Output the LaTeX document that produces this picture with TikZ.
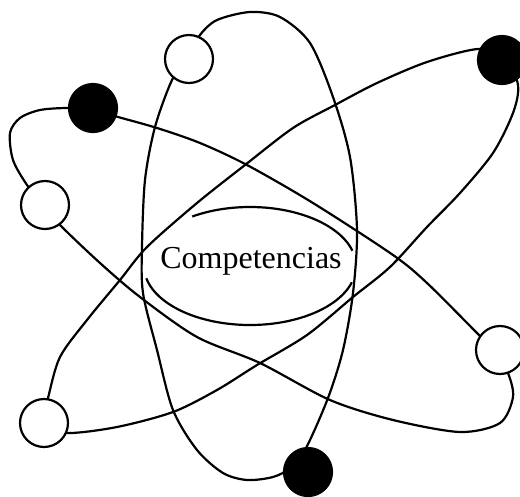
\documentclass[tikz,border=0pt]{standalone}
\usepackage{fontspec}
\setmainfont{Liberation Serif}
\usepackage{tikz}
\usetikzlibrary{positioning}

\begin{document}
\begin{tikzpicture}[
    x=1pt, y=-1pt,
    orbit/.style={line width=2.2pt, line join=round},
    open_ball/.style={circle, draw, line width=2.2pt, fill=white, minimum size=48pt, inner sep=0pt},
    full_ball/.style={circle, draw, line width=2.2pt, fill=black, minimum size=48pt, inner sep=0pt},
    core_text/.style={font=\fontsize{32}{36}\selectfont, inner sep=0pt}
]
\useasboundingbox (0,0) rectangle (520,496);

% Vertical orbit
\draw[orbit] plot[smooth cycle] coordinates {
    (250,12) (280,17) (310,43) (333,97) (350,157) (357,230) (353,293) (343,350)
    (328,398) (306,448) (290,468) (273,477) (247,480) (223,473) (197,450) (173,410)
    (157,350) (143,293) (142,247) (145,180) (155,127) (172,80) (188,57) (200,35) (217,20)};

% Rising orbit
\draw[orbit] plot[smooth cycle] coordinates {
    (505,57) (518,85) (513,113) (493,153) (460,193) (427,227) (390,267) (353,297)
    (307,335) (257,365) (217,390) (173,412) (117,427) (67,433) (42,424) (48,398)
    (60,357) (87,320) (120,280) (147,247) (197,203) (245,165) (293,128) (335,105)
    (377,83) (427,62) (478,49)};

% Falling orbit
\draw[orbit] plot[smooth cycle] coordinates {
    (93,110) (118,117) (157,128) (200,143) (247,165) (313,203) (393,255) (427,283)
    (477,333) (496,352) (508,373) (513,397) (500,423) (460,432) (393,420) (330,400)
    (260,363) (197,337) (140,297) (100,263) (60,225) (43,205) (27,185) (13,160)
    (10,133) (20,118) (40,110) (68,108)};

% Core
\coordinate (core) at (250,266);
\node[core_text, anchor=base] (comp) at (251,268) {Competencias};
\draw[orbit] ([shift={(-123:106 and 59)}]core) arc[start angle=-123, end angle=-15, x radius=106, y radius=59];
\draw[orbit] ([shift={(16:106 and 59)}]core) arc[start angle=16, end angle=168, x radius=106, y radius=59];

% Electrons
\node[open_ball] (e_top) at (189,59) {};
\node[full_ball] (e_ne) at (502,60) {};
\node[full_ball] (e_nw) at (93,108) {};
\node[open_ball] (e_west) at (45,205) {};
\node[open_ball] (e_east) at (500,350) {};
\node[open_ball] (e_sw) at (44,423) {};
\node[full_ball] (e_south) at (308,472) {};

\end{tikzpicture}
\end{document}
